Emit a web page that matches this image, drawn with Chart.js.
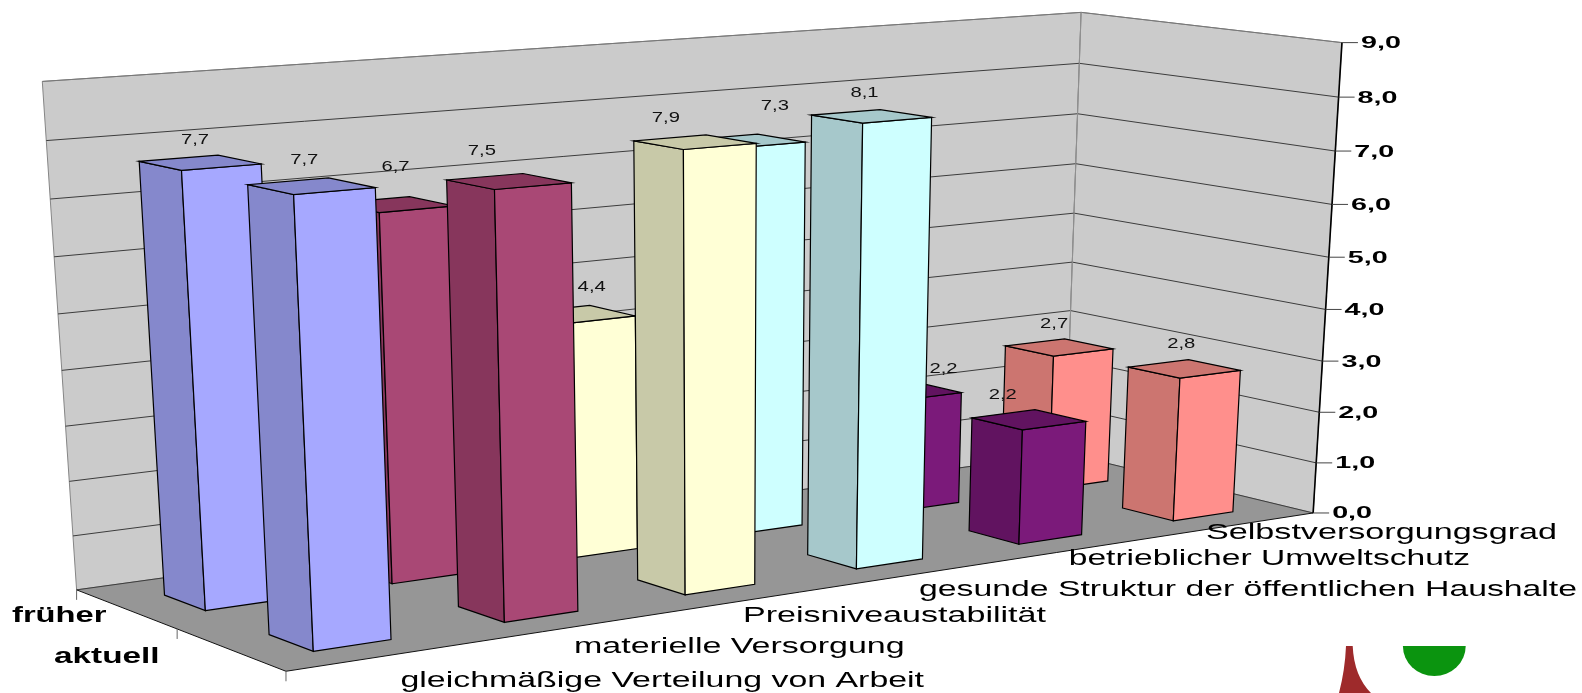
<!DOCTYPE html>
<html lang="de">
<head>
<meta charset="utf-8">
<title>Selbstversorgung</title>
<script src="https://cdn.jsdelivr.net/npm/chart.js@4/dist/chart.umd.min.js"></script>
<style>
  html, body { margin: 0; padding: 0; background: #fff; overflow: hidden; }
  canvas { display: block; }
</style>
</head>
<body>
<canvas id="chart" width="1582" height="693"></canvas>
<script>
const categories = [
    'gleichmäßige Verteilung von Arbeit',
    'materielle Versorgung',
    'Preisniveaustabilität',
    'gesunde Struktur der öffentlichen Haushalte',
    'betrieblicher Umweltschutz',
    'Selbstversorgungsgrad'
];
const seriesNames = ['früher', 'aktuell'];
const frueher = [7.7, 6.7, 4.4, 7.3, 2.2, 2.7];
const aktuell = [7.7, 7.5, 7.9, 8.1, 2.2, 2.8];

const frontColors = ['#a6a8ff', '#a94875', '#ffffd6', '#ceffff', '#7b1a7a', '#ff8f8c'];
const sideColors = ['#8588cc', '#87365c', '#c8c9a8', '#a6c8cb', '#611360', '#cc7570'];

// depth range of each row on the floor, 0 = back wall, 1 = front edge
const rowDepth = [[0.17, 0.37], [0.67, 0.87]];
// bars sit a touch left of the slot centres
const barNudge = -0.0025;

// [left, right, baseline] of the stretched captions
const categoryBoxes = [
    [400.5, 924, 687], [574, 904.6, 653], [743, 1046, 622],
    [919, 1577, 596], [1068.7, 1470, 565], [1206, 1557, 539]
];
const seriesBoxes = [[12, 106.5, 622], [54, 159.6, 663]];

// hand placed value captions, [dx, dy] per row and category
const labelShift = [
    [[-1, 2], [5, -13], [18, -1], [31, -11], [41, 4], [-1, 2]],
    [[-3, -1], [-23, -6], [-25, 0], [-3, 0], [-22, 2], [1, 1]]
];

// calibration of the box: [u, level, w, px, py]
const frameAnchors = [
    [0, 0, 0, 74.4, 588], [0, 1, 0, 73.7, 536.7], [0, 2, 0, 69.3, 481.7], [0, 6, 0, 54.8, 256],
    [0, 7, 0, 50.7, 199], [0, 8, 0, 46.3, 140], [0, 9, 0, 41.9, 82.7],
    [1, 0, 0, 1068, 453.5], [1, 4, 0, 1073, 261], [1, 5, 0, 1074, 214], [1, 6, 0, 1076, 164],
    [1, 7, 0, 1077.5, 114], [1, 8, 0, 1078.5, 64], [1, 9, 0, 1079.2, 12],
    [1, 0, 1, 1313, 512.7], [1, 1, 1, 1314.7, 463], [1, 2, 1, 1318, 413], [1, 3, 1, 1321.5, 361],
    [1, 4, 1, 1326.6, 309], [1, 5, 1, 1328.3, 257], [1, 6, 1, 1332.3, 204], [1, 7, 1, 1335.7, 152],
    [1, 8, 1, 1339.5, 97], [1, 9, 1, 1343.2, 41.5],
    [0, 0, 1, 286.7, 672.3]
];

// least squares fit of a 3x4 projection with the last entry fixed to 1
function fitCamera(anchors) {
    const n = 11;
    const M = Array.from({ length: n }, () => new Array(n + 1).fill(0));
    const addRow = (row, rhs) => {
        for (let i = 0; i < n; i++) {
            for (let j = 0; j < n; j++) M[i][j] += row[i] * row[j];
            M[i][n] += row[i] * rhs;
        }
    };
    anchors.forEach(([u, level, w, px, py]) => {
        const h = level / 9;
        addRow([u, h, w, 1, 0, 0, 0, 0, -px * u, -px * h, -px * w], px);
        addRow([0, 0, 0, 0, u, h, w, 1, -py * u, -py * h, -py * w], py);
    });
    for (let c = 0; c < n; c++) {
        let best = c;
        for (let r = c + 1; r < n; r++) if (Math.abs(M[r][c]) > Math.abs(M[best][c])) best = r;
        [M[c], M[best]] = [M[best], M[c]];
        for (let r = 0; r < n; r++) {
            if (r === c) continue;
            const f = M[r][c] / M[c][c];
            for (let k = c; k <= n; k++) M[r][k] -= f * M[c][k];
        }
    }
    return M.map((row, i) => row[n] / row[i]);
}

const cam = fitCamera(frameAnchors);

function project(u, h, w) {
    const d = cam[8] * u + cam[9] * h + cam[10] * w + 1;
    return [
        (cam[0] * u + cam[1] * h + cam[2] * w + cam[3]) / d,
        (cam[4] * u + cam[5] * h + cam[6] * w + cam[7]) / d
    ];
}

function poly(ctx, pts, fill, stroke, lineWidth) {
    ctx.beginPath();
    pts.forEach((p, i) => i ? ctx.lineTo(p[0], p[1]) : ctx.moveTo(p[0], p[1]));
    ctx.closePath();
    if (fill) { ctx.fillStyle = fill; ctx.fill(); }
    if (stroke) { ctx.strokeStyle = stroke; ctx.lineWidth = lineWidth || 1; ctx.stroke(); }
}

function line(ctx, a, b, color, lineWidth) {
    ctx.beginPath();
    ctx.moveTo(a[0], a[1]);
    ctx.lineTo(b[0], b[1]);
    ctx.strokeStyle = color;
    ctx.lineWidth = lineWidth || 1;
    ctx.stroke();
}

// the captions are wider than any installed face, so squeeze them into their box
function fitText(ctx, text, left, right, baseline, font, color) {
    ctx.save();
    ctx.font = font;
    ctx.fillStyle = color;
    ctx.textAlign = 'left';
    ctx.textBaseline = 'alphabetic';
    ctx.translate(left, baseline);
    ctx.scale((right - left) / ctx.measureText(text).width, 1);
    ctx.fillText(text, 0, 0);
    ctx.restore();
}

function stretchText(ctx, text, x, y, sx, font, color, align) {
    ctx.save();
    ctx.font = font;
    ctx.fillStyle = color;
    ctx.textAlign = align;
    ctx.textBaseline = 'alphabetic';
    ctx.translate(x, y);
    ctx.scale(sx, 1);
    ctx.fillText(text, 0, 0);
    ctx.restore();
}

const commaNumber = v => v.toFixed(1).replace('.', ',');

function drawFrame(chart) {
    const ctx = chart.ctx;
    const yScale = chart.scales.y;
    const level = v => (yScale.bottom - yScale.getPixelForValue(v)) / yScale.height;

    poly(ctx, [project(0, 0, 0), project(1, 0, 0), project(1, 1, 0), project(0, 1, 0)], '#cbcbcb', '#858585');
    poly(ctx, [project(1, 0, 0), project(1, 0, 1), project(1, 1, 1), project(1, 1, 0)], '#cbcbcb', '#858585');
    poly(ctx, [project(0, 0, 0), project(1, 0, 0), project(1, 0, 1), project(0, 0, 1)], '#969696');

    yScale.ticks.forEach(t => {
        const h = level(t.value);
        const color = t.value === 9 ? '#777' : '#3c3c3c';
        line(ctx, project(0, h, 0), project(1, h, 0), color);
        line(ctx, project(1, h, 0), project(1, h, 1), color);
    });
    line(ctx, project(1, 0, 0), project(1, 1, 0), '#8f8f8f');

    // outer edges of the floor
    line(ctx, project(0, 0, 0), project(0, 0, 1), '#111');
    line(ctx, project(0, 0, 1), project(1, 0, 1), '#111');
    [0, 0.5, 1].forEach(w => {
        const p = project(0, 0, w);
        line(ctx, p, [p[0], p[1] + 10], '#666');
    });

    // value axis on the right hand edge
    line(ctx, project(1, 0, 1), project(1, 1, 1), '#000', 1.6);
    yScale.ticks.forEach(t => {
        const p = project(1, level(t.value), 1);
        line(ctx, p, [p[0] + 16, p[1]], '#444');
        stretchText(ctx, commaNumber(t.value), p[0] + 19, p[1] + 5.5, 1.69, 'bold 17px "Liberation Sans"', '#000', 'left');
    });

    categories.forEach((name, i) => {
        const b = categoryBoxes[i];
        fitText(ctx, name, b[0], b[1], b[2], '22px "Liberation Sans"', '#000');
    });
    seriesNames.forEach((name, i) => {
        const b = seriesBoxes[i];
        fitText(ctx, name, b[0], b[1], b[2], 'bold 22px "Liberation Sans"', '#000');
    });
}

function drawBars(chart) {
    const ctx = chart.ctx;
    const area = chart.chartArea;
    const yScale = chart.scales.y;
    const labels = [];

    chart.data.datasets.forEach((ds, row) => {
        const [w0, w1] = rowDepth[row];
        const bars = chart.getDatasetMeta(row).data;
        // later bars sit behind earlier ones from this viewpoint
        for (let i = bars.length - 1; i >= 0; i--) {
            const el = bars[i];
            const u0 = (el.x - el.width / 2 - area.left) / area.width + barNudge;
            const u1 = (el.x + el.width / 2 - area.left) / area.width + barNudge;
            const h = (yScale.bottom - el.y) / yScale.height;

            const left = [project(u0, 0, w0), project(u0, 0, w1), project(u0, h, w1), project(u0, h, w0)];
            const front = [project(u0, 0, w1), project(u1, 0, w1), project(u1, h, w1), project(u0, h, w1)];
            const top = [project(u0, h, w0), project(u0, h, w1), project(u1, h, w1), project(u1, h, w0)];
            poly(ctx, left, sideColors[i], '#000', 1.2);
            poly(ctx, front, frontColors[i], '#000', 1.2);
            poly(ctx, top, sideColors[i], '#000', 1.2);

            const cx = top.reduce((s, p) => s + p[0], 0) / 4;
            const minY = Math.min(...top.map(p => p[1]));
            const shift = labelShift[row][i];
            labels.push([commaNumber(ds.data[i]), cx - 4 + shift[0], minY - 13 + shift[1]]);
        }
    });

    labels.forEach(l => stretchText(ctx, l[0], l[1], l[2], 1.35, '15px "Liberation Sans"', '#111', 'center'));
}

function drawEmblem(ctx) {
    ctx.beginPath();
    ctx.moveTo(1346, 646);
    ctx.lineTo(1352.7, 646);
    ctx.quadraticCurveTo(1354, 676, 1371, 693);
    ctx.lineTo(1339, 693);
    ctx.quadraticCurveTo(1345, 670, 1346, 646);
    ctx.closePath();
    ctx.fillStyle = '#9e2a2b';
    ctx.fill();

    ctx.beginPath();
    ctx.ellipse(1434.3, 646, 31.4, 30, 0, 0, Math.PI);
    ctx.closePath();
    ctx.fillStyle = '#0b940f';
    ctx.fill();
}

const perspectiveBars = {
    id: 'perspectiveBars',
    beforeDatasetsDraw(chart) {
        drawFrame(chart);
        drawBars(chart);
        drawEmblem(chart.ctx);
        return false;
    }
};

new Chart(document.getElementById('chart'), {
    type: 'bar',
    data: {
        labels: categories,
        datasets: [
            { label: seriesNames[0], data: frueher, backgroundColor: frontColors },
            { label: seriesNames[1], data: aktuell, backgroundColor: frontColors }
        ]
    },
    options: {
        responsive: false,
        animation: false,
        grouped: false,
        barPercentage: 0.4,
        categoryPercentage: 1,
        layout: { padding: 0 },
        plugins: { legend: { display: false }, tooltip: { enabled: false } },
        scales: {
            x: { display: false },
            y: { display: false, min: 0, max: 9, ticks: { stepSize: 1 } }
        }
    },
    plugins: [perspectiveBars]
});
</script>
</body>
</html>
